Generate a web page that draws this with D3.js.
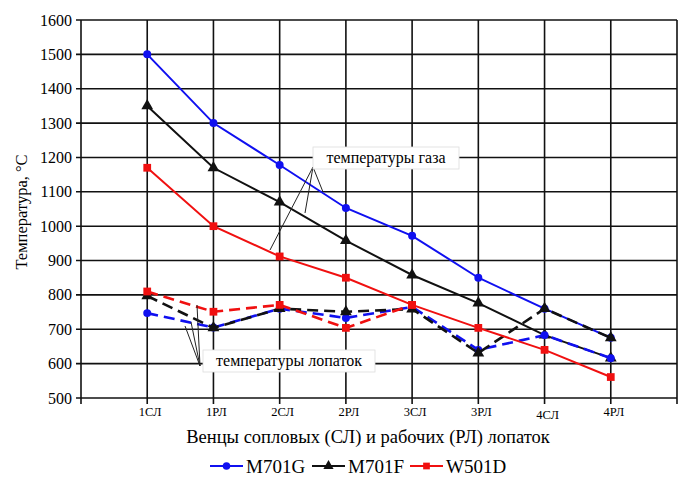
<!DOCTYPE html>
<html lang="ru">
<head>
<meta charset="UTF-8">
<title>Температуры газа и лопаток</title>
<script src="https://d3js.org/d3.v7.min.js"></script>
<style>
    body { margin: 0; background: #fff; }
</style>
</head>
<body>
<svg id="chart" width="687" height="477"></svg>
<script>
// stages of the turbine (nozzle / rotor rows)
const stages = ["1СЛ", "1РЛ", "2СЛ", "2РЛ", "3СЛ", "3РЛ", "4СЛ", "4РЛ"];
const yTicks = [500, 600, 700, 800, 900, 1000, 1100, 1200, 1300, 1400, 1500, 1600];

// gas temperatures (solid lines)
const gasM701G = [1500, 1300, 1178, 1053, 972, 850, 760, 675];
const gasM701F = [1350, 1170, 1070, 958, 858, 776, 683, 616];
const gasW501D = [1170, 1000, 912, 850, 771, 704, 640, 561];

// blade temperatures (dashed lines)
const bladeM701G = [747, 705, 760, 733, 765, 640, 683, 616];
const bladeM701F = [797, 704, 760, 751, 759, 631, 760, 675];
const bladeW501D = [810, 751, 771, 704, 771, null, null, null];

const legendNames = ["M701G", "M701F", "W501D"];
const colors = {M701G: "#1010f0", M701F: "#111111", W501D: "#f01010"};
const markers = {M701G: d3.symbolCircle, M701F: d3.symbolTriangle, W501D: d3.symbolSquare};
const serif = "'Liberation Serif', 'Times New Roman', 'DejaVu Serif', serif";

const svg = d3.select("#chart");
const plotLeft = 81, plotRight = 677, plotTop = 20, plotBottom = 398;

const x = d3.scaleLinear().domain([0, stages.length + 1]).range([plotLeft, plotRight]);
const y = d3.scaleLinear().domain([500, 1600]).range([plotBottom, plotTop]);

// grid
svg.append("g").selectAll("line")
    .data(yTicks)
    .enter().append("line")
    .attr("x1", plotLeft - 5).attr("x2", plotRight)
    .attr("y1", d => y(d)).attr("y2", d => y(d))
    .attr("stroke", "#111").attr("stroke-width", 1.6);

svg.append("g").selectAll("line")
    .data(d3.range(0, stages.length + 2))
    .enter().append("line")
    .attr("x1", d => x(d)).attr("x2", d => x(d))
    .attr("y1", plotTop).attr("y2", plotBottom + 6)
    .attr("stroke", "#111").attr("stroke-width", 1.6);

// y tick labels
svg.append("g").selectAll("text")
    .data(yTicks)
    .enter().append("text")
    .attr("x", plotLeft - 9)
    .attr("y", d => y(d) + 5.5)
    .attr("text-anchor", "end")
    .style("font-family", serif)
    .style("font-size", "16px")
    .text(d => d);

// x tick labels
svg.append("g").selectAll("text")
    .data(stages)
    .enter().append("text")
    .attr("x", (d, i) => x(i + 1) + 3)
    .attr("y", (d, i) => i == 6 ? 419 : 416)
    .attr("text-anchor", "middle")
    .style("font-family", serif)
    .style("font-size", "12.5px")
    .text(d => d);

svg.append("text")
    .attr("transform", "translate(27, 212) rotate(-90)")
    .attr("text-anchor", "middle")
    .style("font-family", serif)
    .style("font-size", "16.5px")
    .text("Температура, °С");

svg.append("text")
    .attr("x", 368).attr("y", 443)
    .attr("text-anchor", "middle")
    .style("font-family", serif)
    .style("font-size", "18.5px")
    .text("Венцы сопловых (СЛ) и рабочих (РЛ) лопаток");

const line = d3.line()
    .defined(d => d != null)
    .x((d, i) => x(i + 1))
    .y(d => y(d));

function drawSeries(values, name, dashed) {
    const g = svg.append("g");
    g.append("path")
        .datum(values)
        .attr("d", line)
        .attr("fill", "none")
        .attr("stroke", colors[name])
        .attr("stroke-width", dashed ? 2.6 : 2)
        .attr("stroke-dasharray", dashed ? "11,6" : null);
    g.selectAll("path.mk")
        .data(values.map((v, i) => [v, i]).filter(d => d[0] != null))
        .enter().append("path")
        .attr("class", "mk")
        .attr("transform", d => `translate(${x(d[1] + 1)}, ${y(d[0])})`)
        .attr("d", d3.symbol().type(markers[name]).size(name == "M701G" ? 50 : 60))
        .attr("fill", colors[name]);
}

drawSeries(gasM701F, "M701F", false);
drawSeries(bladeM701G, "M701G", true);
drawSeries(gasM701G, "M701G", false);
drawSeries(bladeM701F, "M701F", true);
drawSeries(gasW501D, "W501D", false);
drawSeries(bladeW501D, "W501D", true);

// annotations with leader lines
const gasLabel = {px: 313, py: 167, tx: 386, ty: 158, w: 146, text: "температуры газа"};
const gasEnds = [[270, 250], [305, 213], [323, 192]];
const bladeLabel = {px: 200, py: 366, tx: 289, ty: 361, w: 172, text: "температуры лопаток"};
const bladeEnds = [[185, 326], [191, 322], [197, 305]];

[[gasLabel, gasEnds], [bladeLabel, bladeEnds]].forEach(([lab, ends]) => {
    svg.append("g").selectAll("line")
        .data(ends)
        .enter().append("line")
        .attr("x1", lab.px).attr("y1", lab.py)
        .attr("x2", d => d[0]).attr("y2", d => d[1])
        .attr("stroke", "#222").attr("stroke-width", 1);
    svg.append("rect")
        .attr("x", lab.tx - lab.w / 2).attr("y", lab.ty - 11)
        .attr("width", lab.w).attr("height", 22)
        .attr("fill", "#fff")
        .attr("stroke", "#ddd").attr("stroke-width", 0.8);
    svg.append("text")
        .attr("x", lab.tx).attr("y", lab.ty + 5)
        .attr("text-anchor", "middle")
        .style("font-family", serif)
        .style("font-size", "16px")
        .text(lab.text);
});

// legend
const legend = svg.append("g").attr("transform", "translate(210, 466)");
const legendX = [0, 102, 200];
legendNames.forEach((name, i) => {
    const g = legend.append("g").attr("transform", `translate(${legendX[i]}, 0)`);
    g.append("line")
        .attr("x1", 0).attr("x2", 33).attr("y1", 0).attr("y2", 0)
        .attr("stroke", colors[name]).attr("stroke-width", 2);
    g.append("path")
        .attr("transform", "translate(16.5, 0)")
        .attr("d", d3.symbol().type(markers[name]).size(45))
        .attr("fill", colors[name]);
    g.append("text")
        .attr("x", 36).attr("y", 6.5)
        .style("font-family", serif)
        .style("font-size", "19px")
        .text(name);
});
</script>
</body>
</html>
